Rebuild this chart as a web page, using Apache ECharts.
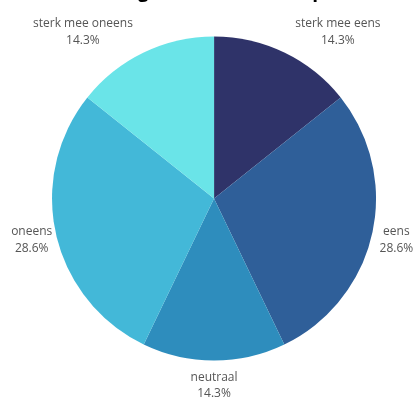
<!DOCTYPE html>
<html>
<head>
<meta charset="utf-8">
<script src="https://cdn.jsdelivr.net/npm/echarts@6/dist/echarts.min.js"></script>
<style>
html, body { margin: 0; padding: 0; background: #fff; }
#chart { width: 416px; height: 401px; }
</style>
</head>
<body>
<div id="chart"></div>
<script>
// data
var categories = ['sterk mee eens', 'eens', 'neutraal', 'oneens', 'sterk mee oneens'];
var counts = [1, 2, 1, 2, 1];
var sliceColors = ['#2f3369', '#2f5f99', '#2e8dbd', '#43b8d8', '#6ae4e8'];
var titleText = 'Mening over het nieuwe plan';

var pieCenter = ['51.45%', '49.5%'];
var pieRadius = '80.8%';

var chart = echarts.init(document.getElementById('chart'));

var total = counts.reduce(function(a, b) { return a + b; }, 0);
var pieData = categories.map(function(name, i) {
	return { name: name, value: counts[i] };
});

function pct(p, size) {
	return parseFloat(p) / 100 * size;
}

//labels centred on the anchor point, pushed sideways when they would cover the pie
function placeLabel(params) {
	var rect = params.labelRect;
	var w = chart.getWidth(), h = chart.getHeight();
	var cx = pct(pieCenter[0], w), cy = pct(pieCenter[1], h);
	var r = pct(pieRadius, Math.min(w, h) / 2);
	var side = params.align === 'right' ? -1 : 1;
	var ax = side < 0 ? rect.x + rect.width : rect.x;
	var ay = rect.y + rect.height / 2;
	var nx = Math.max(ax - rect.width / 2, Math.min(cx, ax + rect.width / 2));
	var ny = Math.max(rect.y, Math.min(cy, rect.y + rect.height));
	var shift = 0, lift = 0;
	if (Math.sqrt((nx - cx) * (nx - cx) + (ny - cy) * (ny - cy)) < r + 1) {
		shift = side * rect.width / 2;
		lift = 2;
	}
	return { x: ax + shift, y: ay + lift, align: 'center', verticalAlign: 'middle' };
}

var option = {
	animation: false,
	title: {
		text: titleText,
		left: 78,
		top: -18,
		padding: 0,
		textStyle: {
			fontFamily: 'Open Sans',
			fontWeight: 'bold',
			fontSize: 19,
			color: '#000'
		}
	},
	color: sliceColors,
	series: [{
		type: 'pie',
		center: pieCenter,
		radius: pieRadius,
		startAngle: 90,
		clockwise: true,
		avoidLabelOverlap: false,
		itemStyle: { borderWidth: 0 },
		label: {
			show: true,
			position: 'outside',
			formatter: function(p) {
				return p.name + '\n' + (p.value / total * 100).toFixed(1) + '%';
			},
			fontFamily: 'Open Sans',
			fontSize: 12,
			lineHeight: 16.5,
			color: '#555',
			distanceToLabelLine: 0
		},
		labelLine: { show: false, length: 25, length2: 0 },
		labelLayout: placeLabel,
		emphasis: { disabled: true },
		data: pieData
	}]
};
chart.setOption(option);
</script>
</body>
</html>
